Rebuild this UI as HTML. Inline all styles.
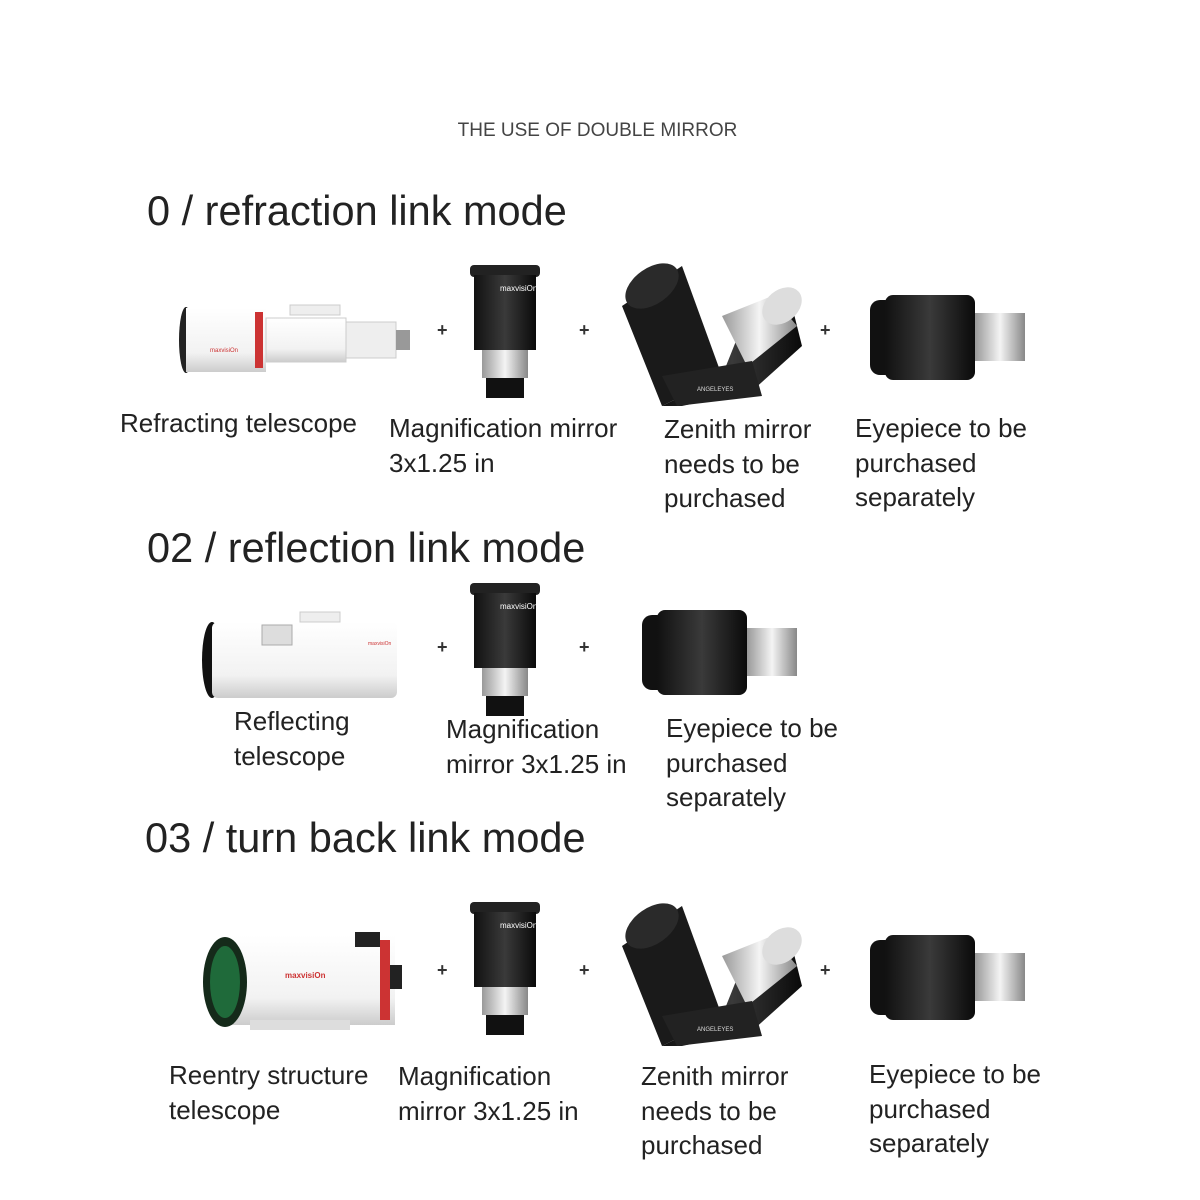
<!DOCTYPE html>
<html><head><meta charset="utf-8"><style>
body{margin:0;background:#fff;}
#c{position:relative;width:1200px;height:1200px;overflow:hidden;font-family:"Liberation Sans",sans-serif;color:#222;}
.t{position:absolute;font-size:26px;line-height:34.5px;white-space:nowrap;}
.h{position:absolute;font-size:41.5px;line-height:46px;white-space:nowrap;color:#222;}
.p{position:absolute;font-size:18px;font-weight:bold;color:#333;}
svg{position:absolute;left:0;top:0;}
</style></head><body><div id="c">
<div style="position:absolute;left:0;width:1195px;top:120px;text-align:center;font-size:19px;color:#444;">THE USE OF DOUBLE MIRROR</div>
<div class="h" style="left:147px;top:188px">0 / refraction link mode</div>
<div class="h" style="left:147px;top:525px">02 / reflection link mode</div>
<div class="h" style="left:145px;top:815px">03 / turn back link mode</div>

<svg width="1200" height="1200">
<defs>
<linearGradient id="blk" x1="0" x2="1"><stop offset="0" stop-color="#111"/><stop offset=".5" stop-color="#3a3a3a"/><stop offset="1" stop-color="#0a0a0a"/></linearGradient>
<linearGradient id="sil" x1="0" x2="1"><stop offset="0" stop-color="#999"/><stop offset=".5" stop-color="#f4f4f4"/><stop offset="1" stop-color="#888"/></linearGradient>
<linearGradient id="wh" x1="0" y1="0" x2="0" y2="1"><stop offset="0" stop-color="#fff"/><stop offset=".7" stop-color="#f2f2f2"/><stop offset="1" stop-color="#ccc"/></linearGradient>
<g id="mag">
<rect x="0" y="0" width="70" height="12" rx="4" fill="#222"/>
<rect x="4" y="10" width="62" height="75" fill="url(#blk)"/>
<rect x="12" y="85" width="46" height="28" fill="url(#sil)"/>
<rect x="16" y="113" width="38" height="20" fill="#111"/>
<text x="30" y="26" font-size="8" fill="#fff" font-family="Liberation Sans">maxvisiOn</text>
</g>
<g id="zen">
<polygon points="0,40 60,0 100,110 40,140" fill="#1a1a1a"/>
<ellipse cx="30" cy="20" rx="30" ry="18" fill="#2a2a2a" transform="rotate(-35 30 20)"/>
<polygon points="40,140 100,110 120,60 170,40 180,80 130,125 60,140" fill="url(#blk)"/>
<polygon points="100,50 150,30 175,60 125,100" fill="url(#sil)"/>
<ellipse cx="160" cy="40" rx="22" ry="16" fill="#ddd" transform="rotate(-40 160 40)"/>
<polygon points="40,110 130,95 140,130 55,140" fill="#222"/>
<text x="75" y="125" font-size="6" fill="#ddd" font-family="Liberation Sans">ANGELEYES</text>
</g>
<g id="eye">
<rect x="0" y="5" width="25" height="75" rx="10" fill="#111"/>
<rect x="15" y="0" width="90" height="85" rx="8" fill="url(#blk)"/>
<rect x="105" y="18" width="50" height="48" fill="url(#sil)"/>
</g>
</defs>

<g>
<ellipse cx="186" cy="340" rx="7" ry="33" fill="#222"/>
<rect x="186" y="308" width="80" height="64" fill="url(#wh)"/>
<rect x="255" y="312" width="8" height="56" fill="#c33"/>
<rect x="266" y="318" width="80" height="44" fill="url(#wh)" stroke="#ccc"/>
<rect x="290" y="305" width="50" height="10" fill="#eee" stroke="#ccc"/>
<rect x="346" y="322" width="50" height="36" fill="#eee" stroke="#ccc"/>
<rect x="396" y="330" width="14" height="20" fill="#999"/>
<text x="210" y="352" font-size="6" fill="#c33" font-family="Liberation Sans">maxvisiOn</text>
</g>
<use href="#mag" x="470" y="265"/>
<use href="#zen" x="622" y="266"/>
<use href="#eye" x="870" y="295"/>

<g>
<ellipse cx="212" cy="660" rx="10" ry="38" fill="#111"/>
<rect x="212" y="622" width="185" height="76" rx="6" fill="url(#wh)"/>
<rect x="262" y="625" width="30" height="20" fill="#ddd" stroke="#aaa"/>
<rect x="300" y="612" width="40" height="10" fill="#eee" stroke="#ccc"/>
<text x="368" y="645" font-size="5" fill="#c33">maxvisiOn</text>
</g>
<use href="#mag" x="470" y="583"/>
<use href="#eye" x="642" y="610"/>

<g>
<rect x="225" y="935" width="170" height="90" fill="url(#wh)"/>
<ellipse cx="225" cy="982" rx="22" ry="45" fill="#152a1a"/>
<ellipse cx="225" cy="982" rx="15" ry="36" fill="#1f6a3a"/>
<rect x="380" y="940" width="10" height="80" fill="#c33"/>
<rect x="390" y="965" width="12" height="24" fill="#222"/>
<rect x="355" y="932" width="25" height="15" fill="#222"/>
<rect x="250" y="1020" width="100" height="10" fill="#ddd"/>
<text x="285" y="978" font-size="8" fill="#c33" font-weight="bold">maxvisiOn</text>
</g>
<use href="#mag" x="470" y="902"/>
<use href="#zen" x="622" y="906"/>
<use href="#eye" x="870" y="935"/>
</svg>

<div class="p" style="left:437px;top:320px">+</div>
<div class="p" style="left:579px;top:320px">+</div>
<div class="p" style="left:820px;top:320px">+</div>
<div class="p" style="left:437px;top:637px">+</div>
<div class="p" style="left:579px;top:637px">+</div>
<div class="p" style="left:437px;top:960px">+</div>
<div class="p" style="left:579px;top:960px">+</div>
<div class="p" style="left:820px;top:960px">+</div>

<div class="t" style="left:120px;top:406px">Refracting telescope</div>
<div class="t" style="left:389px;top:411px">Magnification mirror<br>3x1.25 in</div>
<div class="t" style="left:664px;top:412px">Zenith mirror<br>needs to be<br>purchased</div>
<div class="t" style="left:855px;top:411px">Eyepiece to be<br>purchased<br>separately</div>

<div class="t" style="left:234px;top:704px">Reflecting<br>telescope</div>
<div class="t" style="left:446px;top:712px">Magnification<br>mirror 3x1.25 in</div>
<div class="t" style="left:666px;top:711px">Eyepiece to be<br>purchased<br>separately</div>

<div class="t" style="left:169px;top:1058px">Reentry structure<br>telescope</div>
<div class="t" style="left:398px;top:1059px">Magnification<br>mirror 3x1.25 in</div>
<div class="t" style="left:641px;top:1059px">Zenith mirror<br>needs to be<br>purchased</div>
<div class="t" style="left:869px;top:1057px">Eyepiece to be<br>purchased<br>separately</div>
</div></body></html>
